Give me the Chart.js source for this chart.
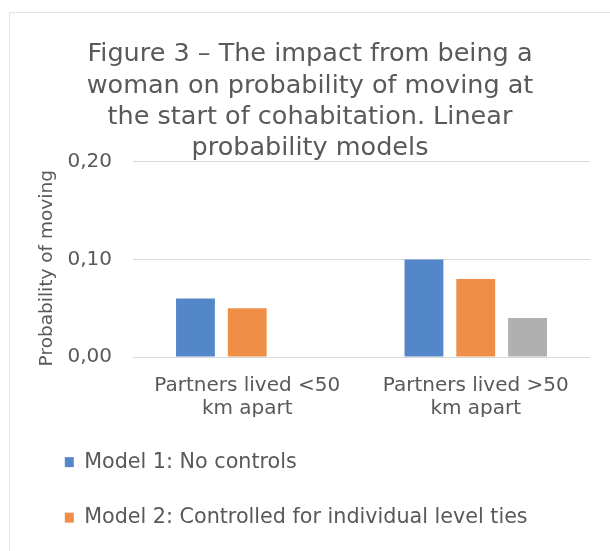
<!DOCTYPE html>
<html>
<head>
<meta charset="utf-8">
<script src="https://cdn.jsdelivr.net/npm/chart.js@4"></script>
<style>
  body { margin: 0; width: 610px; height: 551px; overflow: hidden; background: #fff; }
  #frame { position: absolute; left: 9px; top: 12px; width: 700px; height: 700px; border: 1px solid #e4e4e4; }
  #wrap { position: absolute; left: 0; top: 0; width: 610px; height: 551px; }
</style>
</head>
<body>
<div id="frame"></div>
<div id="wrap"><canvas id="figure3"></canvas></div>
<script>
const categories = [['Partners lived <50', 'km apart'], ['Partners lived >50', 'km apart']];
const model1 = [0.06, 0.10];
const model2 = [0.05, 0.08];
const model3 = [null, 0.04];
const seriesNames = ['Model 1: No controls', 'Model 2: Controlled for individual level ties', 'Model 3'];
const yTicks = [0, 0.1, 0.2];
const yTickLabels = ['0,00', '0,10', '0,20'];

const grey = '#595959';
const font = 'DejaVu Sans';

const ctx = document.getElementById('figure3');
if (ctx) {
    new Chart(ctx, {
        type: 'bar',
        data: {
            labels: categories,
            datasets: [{
                label: seriesNames[0],
                data: model1,
                backgroundColor: '#5487CA',
            }, {
                label: seriesNames[1],
                data: model2,
                backgroundColor: '#EF8E47',
            }, {
                label: seriesNames[2],
                data: model3,
                backgroundColor: '#B0B0B0',
            }]
        },
        options: {
            responsive: true,
            maintainAspectRatio: false,
            animation: false,
            categoryPercentage: 0.68,
            barPercentage: 0.75,
            layout: {
                padding: { top: 39, left: 30, right: 20, bottom: 13 }
            },
            plugins: {
                title: {
                    display: true,
                    text: ['Figure 3 – The impact from being a', 'woman on probability of moving at', 'the start of cohabitation. Linear', 'probability models'],
                    color: grey,
                    font: { family: font, size: 25.5, weight: 'normal', lineHeight: 1.23 },
                    padding: { top: 0, bottom: -2.6 }
                },
                legend: {
                    position: 'bottom',
                    align: 'start',
                    labels: {
                        boxWidth: 9,
                        boxHeight: 10,
                        padding: 34.8,
                        color: grey,
                        font: { family: font, size: 20.7 },
                        // only the first two entries are visible in the figure
                        filter: (item) => item.datasetIndex < 2
                    }
                },
                tooltip: { enabled: false }
            },
            scales: {
                x: {
                    grid: { display: false, drawTicks: false },
                    border: { display: false },
                    ticks: {
                        color: grey,
                        padding: 17,
                        maxRotation: 0,
                        font: { family: font, size: 20, lineHeight: 1.15 }
                    },
                    afterFit: (scale) => { scale.height = 60; }
                },
                y: {
                    min: 0,
                    max: 0.2,
                    afterBuildTicks: (scale) => { scale.ticks = yTicks.map(v => ({ value: v })); },
                    grid: { color: '#d9d9d9', drawTicks: false },
                    border: { display: false },
                    ticks: {
                        color: grey,
                        padding: 21,
                        font: { family: font, size: 20 },
                        callback: (value, index) => yTickLabels[index]
                    },
                    title: {
                        display: true,
                        text: 'Probability of moving   ',
                        color: grey,
                        font: { family: font, size: 18.5 },
                        padding: { top: 6, bottom: 0 }
                    },
                    afterFit: (scale) => { scale.width = 103; }
                }
            }
        }
    });
}
</script>
</body>
</html>
